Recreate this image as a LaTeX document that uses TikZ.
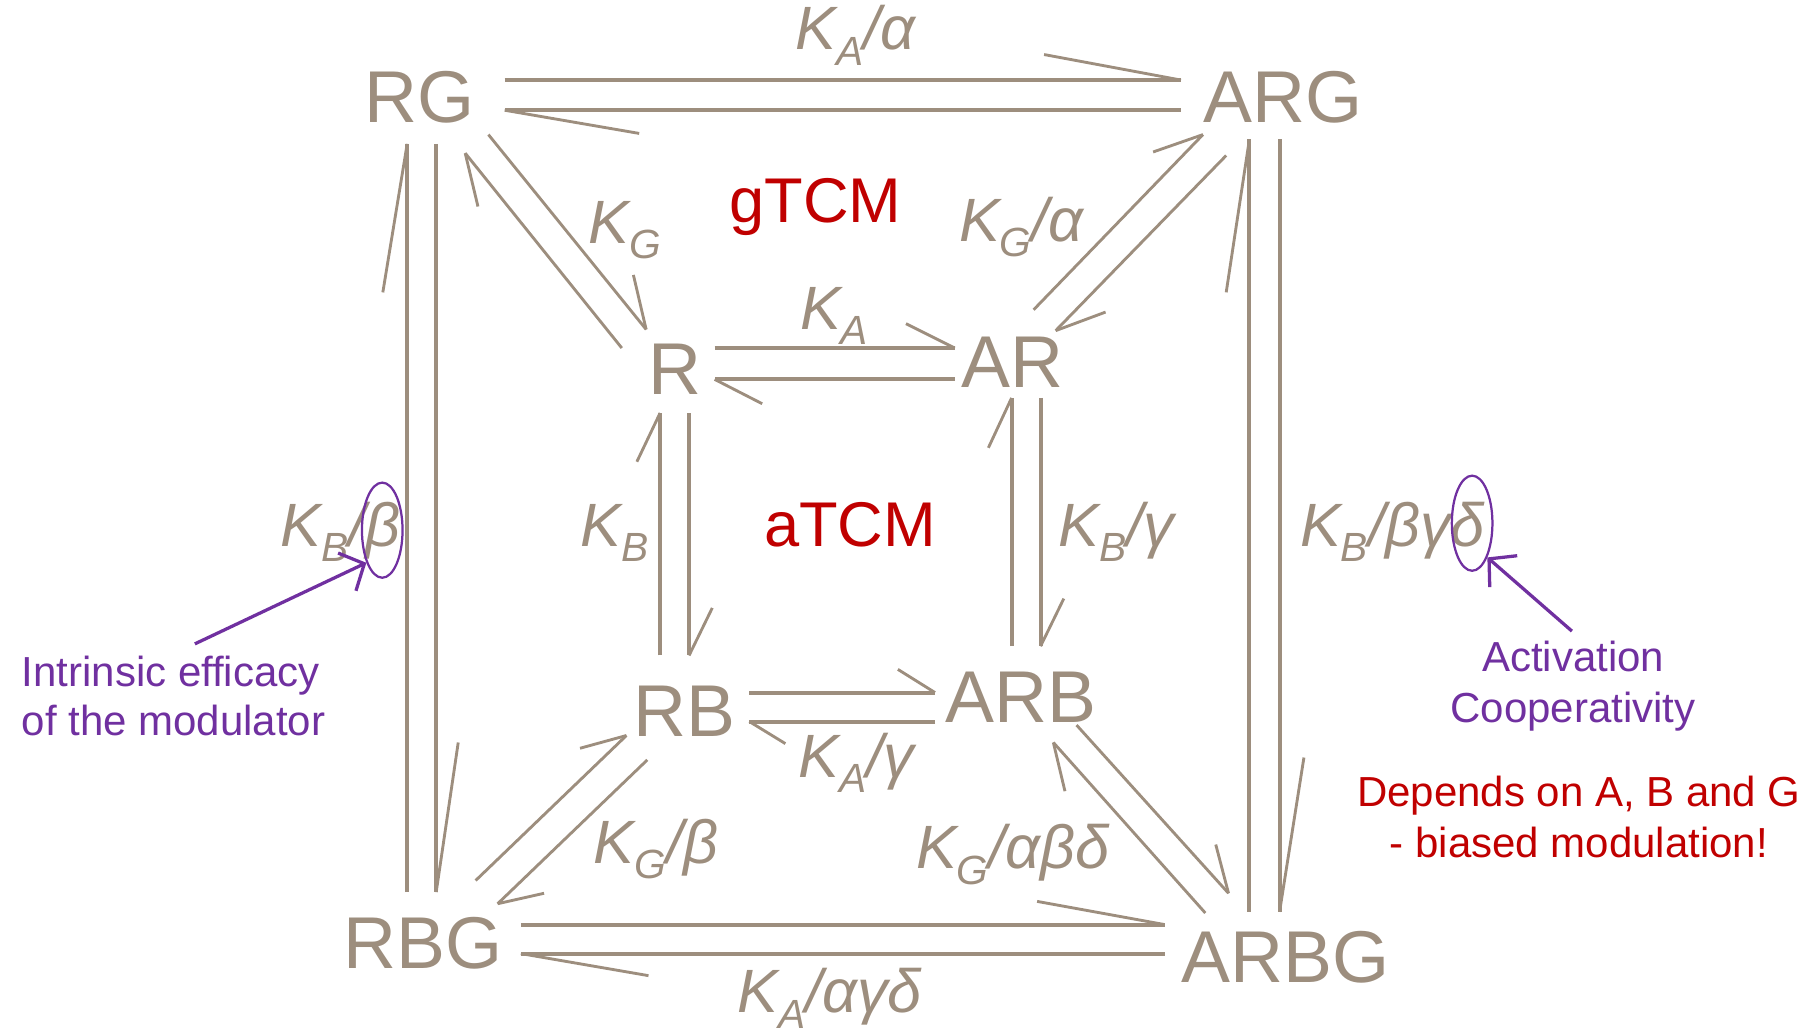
\documentclass[tikz,border=0pt]{standalone}
\usepackage{fontspec}
\setmainfont{Liberation Sans}
\usepackage{graphicx}
\usetikzlibrary{arrows.meta,shapes.geometric}
\definecolor{taupe}{RGB}{157,142,126}
\definecolor{darkred}{RGB}{192,0,0}
\definecolor{purp}{RGB}{112,48,160}
\newcommand{\subk}[1]{\raisebox{-0.25em}{\fontsize{10}{10}\selectfont #1}}
\begin{document}
\begin{tikzpicture}[x=0.1mm,y=-0.1mm,
  st/.style={font=\fontsize{18}{18}\selectfont, text=taupe, inner sep=0pt, anchor=base},
  lbl/.style={font=\fontsize{15}{15}\selectfont\itshape, text=taupe, inner sep=0pt, anchor=base west},
  tcm/.style={font=\fontsize{15.5}{15.5}\selectfont, text=darkred, inner sep=0pt, anchor=base west},
  note/.style={font=\fontsize{10.3}{12}\selectfont, inner sep=0pt},
  main/.style={draw=taupe, line width=1pt},
  diag/.style={draw=taupe, line width=0.7pt},
  barb/.style={draw=taupe, line width=0.7pt},
  ring/.style={draw=purp, line width=0.55pt, ellipse, inner sep=0pt, minimum width=3.5mm, minimum height=8.2mm},
  parr/.style={draw=purp, line width=0.8pt, -{Straight Barb[length=1.65mm,width=3.6mm]}},
]
\useasboundingbox (0,0) rectangle (1568,890);

% species
\node[st] (RG) at (362,106) {RG};
\node[st] (ARG) at (1106,106) {ARG};
\node[st] (R) at (582,340) {R};
\node[st] (AR) at (873,334) {AR};
\node[st] (RB) at (590,635) {RB};
\node[st] (ARB) at (880,623) {ARB};
\node[st] (RBG) at (365,835) {RBG};
\node[st] (ARBG) at (1108,847) {ARBG};

% RG <-> ARG
\draw[main] ([shift={(73,-37)}]RG.base) -- ([shift={(-88,-37)}]ARG.base) edge[barb] ++(-118,-22);
\draw[main] ([shift={(-88,-11)}]ARG.base) -- ([shift={(73,-11)}]RG.base) edge[barb] ++(116,20);
% RBG <-> ARBG
\draw[main] ([shift={(84,-38)}]RBG.base) -- ([shift={(-104,-50)}]ARBG.base) edge[barb] ++(-110,-20);
\draw[main] ([shift={(-104,-25)}]ARBG.base) -- ([shift={(84,-13)}]RBG.base) edge[barb] ++(110,19);
% R <-> AR
\draw[main] ([shift={(34,-40)}]R.base) -- ([shift={(-50,-34)}]AR.base) edge[barb] ++(-42,-21);
\draw[main] ([shift={(-50,-7)}]AR.base) -- ([shift={(34,-13)}]R.base) edge[barb] ++(41,21);
% RB <-> ARB
\draw[main] ([shift={(56,-38)}]RB.base) -- ([shift={(-74,-26)}]ARB.base) edge[barb] ++(-32,-20);
\draw[main] ([shift={(-74,-1)}]ARB.base) -- ([shift={(56,-13)}]RB.base) edge[barb] ++(31,19);
% RG <-> RBG
\draw[main] ([shift={(-14,-66)}]RBG.base) -- ([shift={(-11,18)}]RG.base) edge[barb] ++(-21,128);
\draw[main] ([shift={(14,18)}]RG.base) -- ([shift={(11,-66)}]RBG.base) edge[barb] ++(19,-129);
% ARG <-> ARBG
\draw[main] ([shift={(-31,-61)}]ARBG.base) -- ([shift={(-29,14)}]ARG.base) edge[barb] ++(-20,132);
\draw[main] ([shift={(-3,14)}]ARG.base) -- ([shift={(-5,-61)}]ARBG.base) edge[barb] ++(21,-133);
% R <-> RB
\draw[main] ([shift={(-21,-70)}]RB.base) -- ([shift={(-13,16)}]R.base) edge[barb] ++(-20,42);
\draw[main] ([shift={(12,16)}]R.base) -- ([shift={(4,-70)}]RB.base) edge[barb] ++(20,-41);
% AR <-> ARB
\draw[main] ([shift={(-8,-66)}]ARB.base) -- ([shift={(-1,9)}]AR.base) edge[barb] ++(-20,43);
\draw[main] ([shift={(24,9)}]AR.base) -- ([shift={(17,-66)}]ARB.base) edge[barb] ++(20,-41);
% RG <-> R
\draw[diag] ([shift={(59,10)}]RG.base) -- ([shift={(-25,-56)}]R.base) edge[barb] ++(-11,-47);
\draw[diag] ([shift={(-46,-40)}]R.base) -- ([shift={(39,26)}]RG.base) edge[barb] ++(11,46);
% AR <-> ARG
\draw[diag] ([shift={(18,-67)}]AR.base) -- ([shift={(-69,10)}]ARG.base) edge[barb] ++(-43,15);
\draw[diag] ([shift={(-49,28)}]ARG.base) -- ([shift={(37,-49)}]AR.base) edge[barb] ++(43,-16);
% RBG <-> RB
\draw[diag] ([shift={(45,-76)}]RBG.base) -- ([shift={(-50,-1)}]RB.base) edge[barb] ++(-40,11);
\draw[diag] ([shift={(-32,20)}]RB.base) -- ([shift={(64,-56)}]RBG.base) edge[barb] ++(40,-9);
% ARB <-> ARBG
\draw[diag] ([shift={(48,2)}]ARB.base) -- ([shift={(-49,-77)}]ARBG.base) edge[barb] ++(-11,-42);
\draw[diag] ([shift={(-69,-60)}]ARBG.base) -- ([shift={(28,17)}]ARB.base) edge[barb] ++(10,42);

% constants
\node[lbl] (l1) at (685,43) {K\subk{A}/α};
\node[lbl] (l2) at (507,210) {K\subk{G}};
\node[lbl] (l3) at (826,208) {K\subk{G}/α};
\node[lbl] (l4) at (689,284) {K\subk{A}};
\node[lbl] (l5) at (500,471) {K\subk{B}};
\node[lbl] (l6) at (912,471) {K\subk{B}/γ};
\node[lbl] (l7) at (241,471) {K\subk{B}/β};
\node[lbl] (l8) at (1120,471) {K\subk{B}/βγδ};
\node[lbl] (l9) at (688,670) {K\subk{A}/γ};
\node[lbl] (l10) at (511,744) {K\subk{G}/β};
\node[lbl] (l11) at (789,749) {K\subk{G}/αβδ};
\node[lbl] (l12) at (635,873) {K\subk{A}/αγδ};
\node[tcm] (gt) at (628,192) {gTCM};
\node[tcm] (at) at (658,471) {aTCM};

% annotations
\node[ring] (e1) at (329.5,457) {};
\node[ring] (e2) at (1269,451) {};
\node[note, text=purp, anchor=base west] (n1a) at (18,592) {Intrinsic efficacy};
\node[note, text=purp, anchor=base west] (n1b) at (18,634) {of the modulator};
\node[note, text=purp, anchor=base] (n2a) at (1356,579) {Activation};
\node[note, text=purp, anchor=base] (n2b) at (1356,623) {Cooperativity};
\node[note, text=darkred, anchor=base] (r1) at (1361,695) {Depends on A, B and G};
\node[note, text=darkred, anchor=base] (r2) at (1361,739) {- biased modulation!};
\draw[parr] ([shift={(150,-37)}]n1a.base west) -- (e1.244);
\draw[parr] ([shift={(-1,-35)}]n2a.base) -- (e2.294);
\end{tikzpicture}
\end{document}
